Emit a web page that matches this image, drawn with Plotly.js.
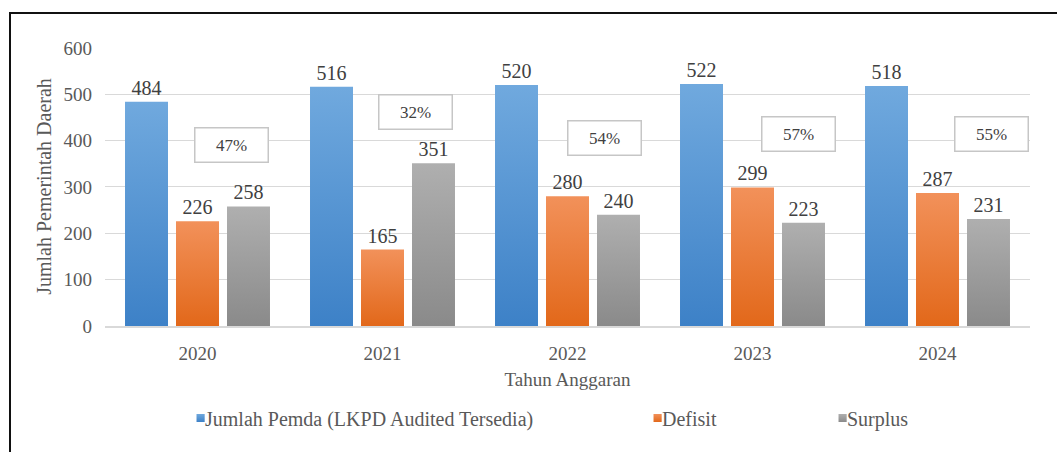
<!DOCTYPE html>
<html>
<head>
<meta charset="utf-8">
<script src="https://cdn.plot.ly/plotly-3.0.1.min.js"></script>
<style>
  html, body { margin: 0; padding: 0; background: #fff; }
  #wrap { position: relative; width: 1057px; height: 452px; overflow: hidden; }
  #chart { position: absolute; left: 0; top: 0; width: 1057px; height: 452px; }
  #frame { position: absolute; left: 9px; top: 12px; width: 1200px; height: 600px;
           border: 2px solid #111; pointer-events: none; }
  #gdefs { position: absolute; width: 0; height: 0; }
</style>
</head>
<body>
<div id="wrap">
  <div id="chart"></div>
  <div id="frame"></div>
</div>
<svg id="gdefs" width="0" height="0">
  <defs>
    <linearGradient id="gBlue" x1="0" y1="0" x2="0" y2="1">
      <stop offset="0" stop-color="#70a9de"/>
      <stop offset="1" stop-color="#3d81c7"/>
    </linearGradient>
    <linearGradient id="gOrange" x1="0" y1="0" x2="0" y2="1">
      <stop offset="0" stop-color="#f2915a"/>
      <stop offset="1" stop-color="#e2681a"/>
    </linearGradient>
    <linearGradient id="gGray" x1="0" y1="0" x2="0" y2="1">
      <stop offset="0" stop-color="#afafaf"/>
      <stop offset="1" stop-color="#8a8a8a"/>
    </linearGradient>
  </defs>
</svg>
<script>
// ---- data ----
const years = ['2020', '2021', '2022', '2023', '2024'];
const jumlahPemda = [484, 516, 520, 522, 518];
const defisit = [226, 165, 280, 299, 287];
const surplus = [258, 351, 240, 223, 231];
const pctLabels = ['47%', '32%', '54%', '57%', '55%'];
const seriesNames = ['Jumlah Pemda (LKPD Audited Tersedia)', 'Defisit', 'Surplus'];

// ---- style ----
const FONT = '"Liberation Serif", "Times New Roman", Times, serif';
const colors = ['#5b9bd5', '#ed7d31', '#a5a5a5'];
const gradIds = ['gBlue', 'gOrange', 'gGray'];
// layout placement of the percentage boxes (pixel offset from category, y in data units)
const pctXShift = [34, 33, 37, 46, 54];
const pctYPos = [390, 462, 406, 414, 414];

const seriesVals = [jumlahPemda, defisit, surplus];
const legendIds = ['legend', 'legend2', 'legend3'];

const data = seriesVals.map((vals, i) => ({
  type: 'bar',
  name: seriesNames[i],
  x: years,
  y: vals,
  text: vals.map(String),
  textposition: 'outside',
  textfont: { family: FONT, size: 20, color: '#404040' },
  cliponaxis: false,
  marker: { color: colors[i], line: { width: 0 } },
  legend: legendIds[i],
  hoverinfo: 'x+y+name'
}));

// category axis: annotation x given as the category's serial index
const annotations = years.map((yr, j) => ({
  x: j, y: pctYPos[j], xref: 'x', yref: 'y',
  xshift: pctXShift[j],
  text: pctLabels[j],
  showarrow: false,
  font: { family: FONT, size: 17, color: '#404040' },
  bgcolor: '#ffffff',
  bordercolor: '#c6c6c6',
  borderwidth: 1.5,
  borderpad: 0,
  width: 72,
  height: 33,
  xanchor: 'center', yanchor: 'middle'
}));

const plotL = 105, plotR = 1030, plotT = 47, plotB = 326;
const pw = plotR - plotL, ph = plotB - plotT;
const legX = [165, 622, 807].map(px => (px - plotL) / pw);
const legY = (plotB - 418) / ph;

function legendCfg(xp) {
  return {
    x: xp, y: legY, xanchor: 'left', yanchor: 'middle',
    orientation: 'h', bgcolor: 'rgba(0,0,0,0)', borderwidth: 0,
    font: { family: FONT, size: 20, color: '#595959' }
  };
}

const layout = {
  width: 1057, height: 452,
  margin: { l: plotL, r: 1057 - plotR, t: plotT, b: 452 - plotB, pad: 0 },
  paper_bgcolor: '#ffffff',
  plot_bgcolor: '#ffffff',
  font: { family: FONT, size: 18, color: '#595959' },
  barmode: 'group',
  bargap: 0.173,
  bargroupgap: 0.157,
  showlegend: true,
  legend: legendCfg(legX[0]),
  legend2: legendCfg(legX[1]),
  legend3: legendCfg(legX[2]),
  xaxis: {
    type: 'category',
    showline: true, linecolor: '#d9d9d9', linewidth: 1.5,
    showgrid: false, ticks: '',
    ticklabelstandoff: 10,
    tickfont: { family: FONT, size: 19, color: '#595959' },
    title: { text: 'Tahun Anggaran', font: { family: FONT, size: 19, color: '#595959' }, standoff: 9 }
  },
  yaxis: {
    range: [0, 602], tickvals: [0, 100, 200, 300, 400, 500, 600],
    showgrid: true, gridcolor: '#d9d9d9', gridwidth: 1,
    zeroline: false, showline: false, ticks: '',
    ticklabelstandoff: 12,
    tickfont: { family: FONT, size: 19, color: '#595959' },
    title: { text: 'Jumlah Pemerintah Daerah', font: { family: FONT, size: 20, color: '#595959' }, standoff: 6 }
  },
  annotations: annotations
};

function hexToRgbStr(h) {
  const n = parseInt(h.slice(1), 16);
  return 'rgb(' + ((n >> 16) & 255) + ', ' + ((n >> 8) & 255) + ', ' + (n & 255) + ')';
}
const colorToGrad = {};
colors.forEach((c, i) => { colorToGrad[hexToRgbStr(c)] = gradIds[i]; });

Plotly.newPlot('chart', data, layout, { displayModeBar: false, staticPlot: true }).then(gd => {
  const paths = gd.querySelectorAll('.barlayer .point path, .legendpoints path');
  paths.forEach(p => {
    const f = (p.style.fill || '').replace(/\s+/g, ' ');
    const key = Object.keys(colorToGrad).find(k => k.replace(/\s+/g, ' ') === f);
    if (key) p.style.fill = 'url(#' + colorToGrad[key] + ')';
  });
  // legend symbols: smaller square, sitting right next to its label
  gd.querySelectorAll('.legendpoints').forEach(g => {
    g.setAttribute('transform', 'translate(22,0) scale(0.68)');
  });
});
</script>
</body>
</html>
